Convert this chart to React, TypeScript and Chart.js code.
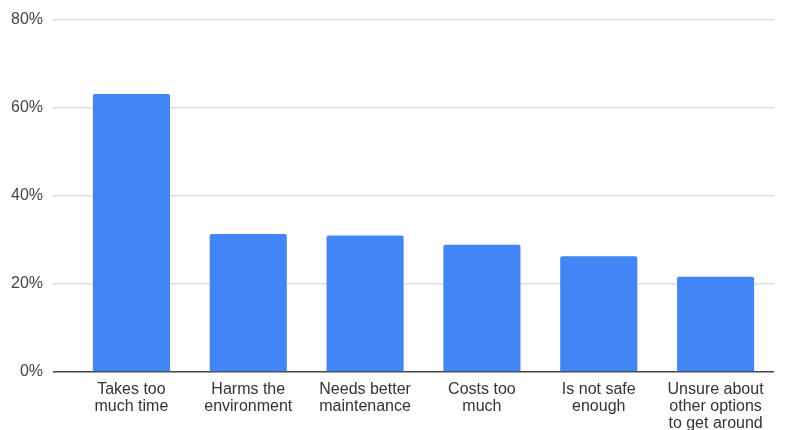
import React, { useEffect, useRef } from "react";
import { Chart, registerables } from "chart.js";

Chart.register(...registerables);

const categories: string[][] = [
  ["Takes too", "much time"],
  ["Harms the", "environment"],
  ["Needs better", "maintenance"],
  ["Costs too", "much"],
  ["Is not safe", "enough"],
  ["Unsure about", "other options", "to get around"],
];
const values: number[] = [63.1, 31.3, 31.0, 28.9, 26.3, 21.6];
const yTicks: number[] = [0, 20, 40, 60, 80];

export default function App() {
  const ref = useRef<HTMLCanvasElement | null>(null);

  useEffect(() => {
    if (!ref.current) return;
    const chart = new Chart(ref.current, {
      type: "bar",
      data: {
        labels: categories,
        datasets: [
          {
            data: values,
            backgroundColor: "#4285F4",
            borderRadius: 2,
            borderSkipped: "bottom",
            barPercentage: 0.66,
            categoryPercentage: 1,
          },
        ],
      },
      options: {
        animation: false,
        responsive: false,
        devicePixelRatio: 1,
        layout: { padding: { top: 11, right: 13, left: 0, bottom: 0 } },
        plugins: { legend: { display: false }, tooltip: { enabled: false } },
        scales: {
          x: {
            grid: { display: false, drawTicks: false },
            border: { display: false },
            ticks: {
              color: "#333333",
              padding: 9,
              maxRotation: 0,
              autoSkip: false,
              font: { family: "Liberation Sans, Arial", size: 16, lineHeight: 1.07 },
            },
            afterFit: (s: any) => {
              s.height = 58;
            },
          },
          y: {
            min: 0,
            max: 80,
            afterBuildTicks: (s: any) => {
              s.ticks = yTicks.map((v) => ({ value: v }));
            },
            grid: {
              color: (ctx: any) => (ctx.tick && ctx.tick.value === 0 ? "#444444" : "#dddddd"),
              lineWidth: 1.5,
              drawTicks: true,
              tickLength: 20,
            },
            border: { display: false },
            ticks: {
              color: "#444444",
              padding: 10,
              font: { family: "Liberation Sans, Arial", size: 16 },
              callback: (v: any) => v + "%",
            },
            afterFit: (s: any) => {
              s.width = 73;
            },
          },
        },
      },
    });
    return () => chart.destroy();
  }, []);

  return (
    <div style={{ position: "fixed", left: 0, top: 0, width: 787, height: 430, background: "#fff" }}>
      <canvas ref={ref} width={787} height={430} style={{ width: 787, height: 430 }} />
    </div>
  );
}
